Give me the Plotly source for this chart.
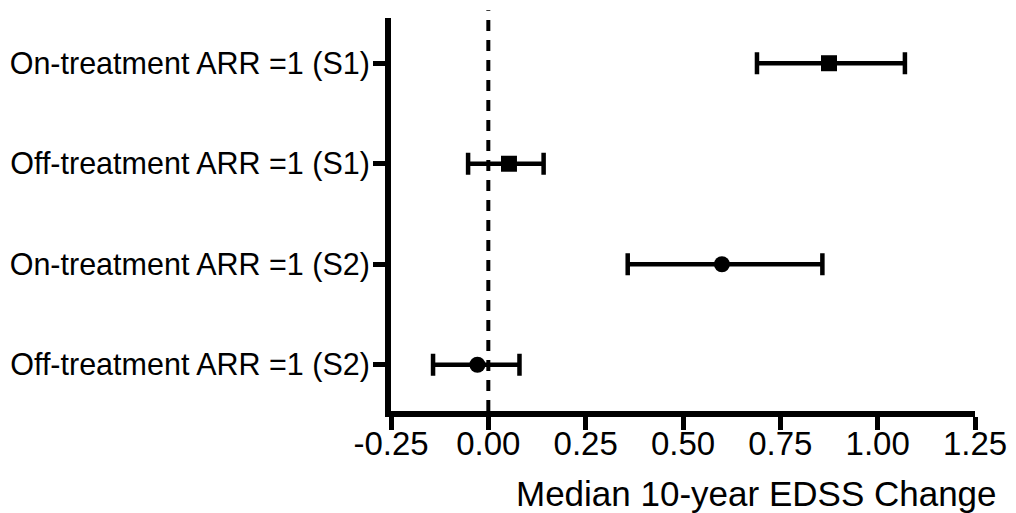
import plotly.graph_objects as go

categories = ["On-treatment ARR =1 (S1)", "Off-treatment ARR =1 (S1)",
              "On-treatment ARR =1 (S2)", "Off-treatment ARR =1 (S2)"]
positions = [3, 2, 1, 0]
medians = [0.875, 0.053, 0.600, -0.028]
lower = [0.690, -0.052, 0.358, -0.142]
upper = [1.070, 0.142, 0.858, 0.080]
symbols = ["square", "square", "circle", "circle"]
x_ticks = [-0.25, 0.0, 0.25, 0.5, 0.75, 1.0, 1.25]
x_ticklabels = ["-0.25", "0.00", "0.25", "0.50", "0.75", "1.00", "1.25"]

FONT = "Arial, 'Liberation Sans', sans-serif"

fig = go.Figure()
for i in range(len(categories)):
    fig.add_trace(go.Scatter(
        x=[medians[i]], y=[positions[i]], mode="markers",
        marker=dict(symbol=symbols[i], size=16, color="black"),
        error_x=dict(type="data", symmetric=False,
                     array=[upper[i] - medians[i]],
                     arrayminus=[medians[i] - lower[i]],
                     color="black", thickness=4.5, width=11),
        showlegend=False, cliponaxis=False,
    ))

fig.add_shape(type="line", xref="x", yref="paper", x0=0, x1=0, y0=0, y1=1.02,
              line=dict(color="black", width=4, dash="11px,9px"), layer="below")

fig.add_annotation(text="Median 10-year EDSS Change", xref="x", yref="paper",
                   x=0.69, y=0, yshift=-82, yanchor="middle", showarrow=False,
                   font=dict(family=FONT, size=35, color="black"))

fig.update_layout(
    width=1016, height=513,
    margin=dict(l=383, r=49, t=10, b=110),
    paper_bgcolor="white", plot_bgcolor="white",
    font=dict(family=FONT, size=30, color="black"),
)
fig.update_xaxes(range=[-0.25, 1.25], tickvals=x_ticks, ticktext=x_ticklabels,
                 automargin=False,
                 showline=True, linecolor="black", linewidth=6,
                 ticks="outside", ticklen=13, tickwidth=5, tickcolor="black",
                 ticklabelstandoff=-15,
                 showgrid=False, zeroline=False,
                 tickfont=dict(family=FONT, size=33, color="black"))
fig.update_yaxes(range=[-0.46, 3.45], tickvals=positions, ticktext=categories,
                 automargin=False,
                 showline=True, linecolor="black", linewidth=6,
                 ticks="outside", ticklen=12, tickwidth=5, tickcolor="black",
                 ticklabelstandoff=-3,
                 showgrid=False, zeroline=False,
                 tickfont=dict(family=FONT, size=30.5, color="black"))

fig.write_html("out.html")
